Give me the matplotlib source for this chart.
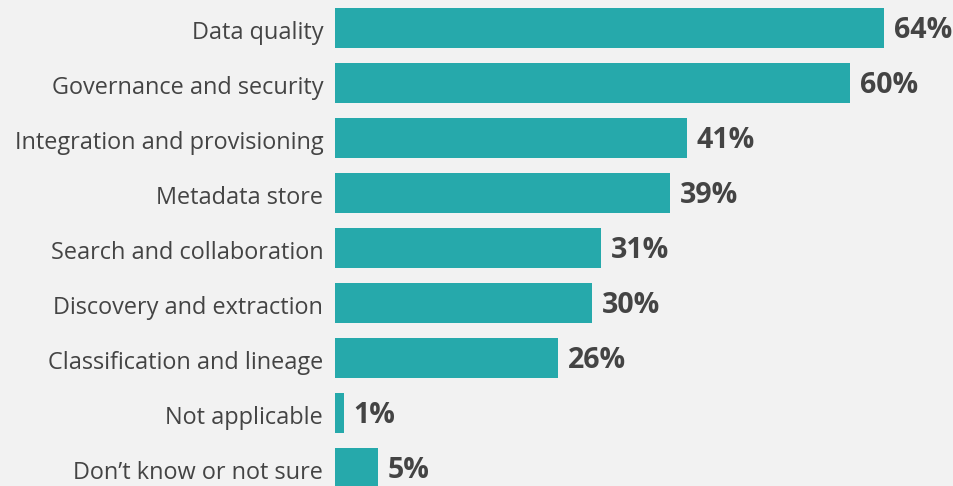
import matplotlib.pyplot as plt

categories = [
    "Data quality",
    "Governance and security",
    "Integration and provisioning",
    "Metadata store",
    "Search and collaboration",
    "Discovery and extraction",
    "Classification and lineage",
    "Not applicable",
    "Don\u2019t know or not sure",
]
values = [64, 60, 41, 39, 31, 30, 26, 1, 5]

bg = "#f2f2f2"
bar_color = "#26a9ab"
text_color = "#444444"

plt.rcParams["font.family"] = ["Open Sans", "DejaVu Sans"]

fig = plt.figure(figsize=(9.54, 4.86), dpi=100, facecolor=bg)
ax = fig.add_axes([0, 0, 1, 1])
ax.set_facecolor(bg)

y = list(range(len(categories)))
ax.barh(y, values, height=40 / 55, color=bar_color)

for yi, cat, v in zip(y, categories, values):
    ax.annotate(cat, (0, yi), xytext=(-8.5, -7.7), textcoords="offset points",
                ha="right", va="baseline", fontsize=16.9, color=text_color)
    ax.annotate(f"{v}%", (v, yi), xytext=(7.2, -7.3), textcoords="offset points",
                ha="left", va="baseline", fontsize=20.5, fontweight="bold",
                color=text_color)

px_per_pct = (884 - 335) / 64
ax.set_xlim(-335 / px_per_pct, (954 - 335) / px_per_pct)
ax.set_ylim((486 - 28) / 55, -28 / 55)
ax.axis("off")

fig.savefig("out.png", dpi=100, facecolor=bg)
